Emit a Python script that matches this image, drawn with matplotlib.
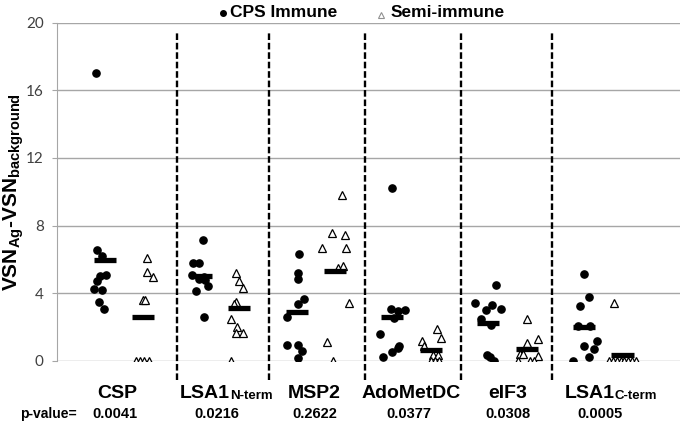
import numpy as np
import matplotlib.pyplot as plt

plt.rcParams['font.family'] = ['Liberation Sans', 'DejaVu Sans']
plt.rcParams['mathtext.fontset'] = 'custom'
plt.rcParams['mathtext.bf'] = 'Liberation Sans:bold'
plt.rcParams['mathtext.rm'] = 'Liberation Sans:bold'

antigens = ['CSP', 'LSA1', 'MSP2', 'AdoMetDC', 'eIF3', 'LSA1']
suffixes = ['', 'N-term', '', '', '', 'C-term']
p_values = ['0.0041', '0.0216', '0.2622', '0.0377', '0.0308', '0.0005']

# CPS immune donors, values and horizontal jitter (fraction of a group)
cps_values = [
    [17.0, 6.55, 6.2, 5.05, 5.0, 4.73, 4.26, 4.2, 3.45, 3.06],
    [7.12, 5.78, 5.78, 5.1, 4.95, 4.85, 4.75, 4.42, 4.1, 2.6],
    [6.3, 5.21, 4.85, 3.65, 3.35, 2.57, 0.91, 0.91, 0.57, 0.18],
    [10.24, 3.04, 2.94, 3.0, 2.5, 1.58, 0.85, 0.77, 0.53, 0.24],
    [4.48, 3.43, 3.3, 3.0, 3.04, 2.47, 2.11, 0.34, 0.2, 0.0],
    [5.13, 3.79, 3.24, 2.05, 2.05, 1.17, 0.88, 0.67, 0.24, 0.0],
]
cps_jitter = [
    [-0.09, -0.08, -0.03, 0.01, -0.05, -0.08, -0.11, -0.03, -0.06, -0.01],
    [0.02, -0.08, -0.02, -0.09, 0.03, -0.02, 0.04, 0.08, -0.05, 0.03],
    [0.03, 0.01, 0.01, 0.08, 0.01, -0.10, -0.10, 0.01, 0.06, 0.01],
    [0.0, -0.02, 0.06, 0.13, 0.02, -0.13, 0.07, 0.06, 0.0, -0.10],
    [0.08, -0.14, 0.04, -0.02, 0.13, -0.08, 0.03, -0.01, 0.02, 0.06],
    [0.0, 0.05, -0.04, -0.06, 0.06, 0.13, 0.0, 0.10, 0.05, -0.12],
]

# semi-immune donors
semi_values = [
    [6.06, 5.27, 4.93, 3.59, 3.59, 0, 0, 0, 0],
    [5.2, 4.73, 4.28, 3.45, 3.35, 2.47, 1.98, 1.62, 1.62, 0],
    [9.8, 7.54, 7.44, 6.65, 6.65, 5.62, 5.47, 3.4, 1.12, 0],
    [1.86, 1.36, 1.15, 0.88, 0.34, 0.34, 0, 0, 0],
    [2.47, 1.3, 1.07, 0.42, 0.42, 0.3, 0, 0, 0],
    [3.4, 0, 0, 0, 0, 0, 0, 0, 0],
]
semi_jitter = [
    [0.04, 0.04, 0.10, 0.0, 0.02, -0.08, -0.03, 0.01, 0.06],
    [-0.03, 0.0, 0.04, -0.03, -0.05, -0.08, -0.02, -0.03, 0.04, -0.08],
    [0.07, -0.03, 0.10, -0.13, 0.12, 0.08, 0.03, 0.15, -0.08, -0.02],
    [0.06, 0.11, -0.09, -0.07, 0.02, 0.07, 0.0, 0.04, 0.09],
    [0.0, 0.12, 0.0, -0.07, -0.04, 0.12, -0.09, 0.03, 0.08],
    [-0.09, -0.14, -0.10, -0.06, -0.02, 0.02, 0.06, 0.10, 0.14],
]

cps_means = [5.95, 5.03, 2.86, 2.57, 2.25, 1.98]
semi_means = [2.6, 3.1, 5.33, 0.63, 0.67, 0.36]
divider_x = [0.75, 1.71, 2.71, 3.72, 4.66]

semi_shift = 0.4
bar_half = 0.115

fig = plt.figure(figsize=(6.85, 4.32), dpi=100)
ax = fig.add_axes([0.0832, 0.165, 0.9095, 0.7825])

for i in range(len(antigens)):
    xc = i + np.array(cps_jitter[i])
    ax.plot(xc, cps_values[i], 'o', color='black', ms=5.2, ls='none', zorder=3)
    xs = i + semi_shift + np.array(semi_jitter[i])
    ax.plot(xs, semi_values[i], '^', mfc='white', mec='black', mew=0.9,
            ms=6, ls='none', zorder=3)
    ax.plot([i - bar_half, i + bar_half], [cps_means[i]] * 2, color='black',
            lw=3.8, solid_capstyle='butt', zorder=4)
    ax.plot([i + semi_shift - bar_half, i + semi_shift + bar_half],
            [semi_means[i]] * 2, color='black', lw=3.8,
            solid_capstyle='butt', zorder=4)

for x in divider_x:
    ax.plot([x, x], [-1.14, 19.4], color='black', lw=1.7,
            ls=(0, (2.8, 1.2)), clip_on=False, zorder=2)

ax.set_xlim(-0.5, 6.0)
ax.set_ylim(0, 20)
ax.set_yticks(np.arange(0, 21, 4))
ax.set_xticks([])
ax.yaxis.grid(True, color='#a6a6a6', lw=1.0)
ax.set_axisbelow(True)
for side in ['top', 'right', 'bottom']:
    ax.spines[side].set_visible(False)
ax.spines['left'].set_color('#a6a6a6')
ax.tick_params(axis='y', colors='#a6a6a6', length=3.6, pad=6,
               labelcolor='#404040', labelsize=11)
for lab in ax.get_yticklabels():
    lab.set_family(['Lato', 'DejaVu Sans'])

ax.set_ylabel(r'$\mathbf{VSN}_{\mathbf{Ag}}\mathbf{\text{-}VSN}_{\mathbf{background}}$',
              fontsize=15)
ax.yaxis.set_label_coords(-0.049, 0.5)

# category labels and p-values below the axis
trans = ax.get_xaxis_transform()
label_x = [0.125, 1.305, 2.18, 3.19, 4.2, 5.32]
pval_x = [0.1, 1.17, 2.19, 3.17, 4.2, 5.17]
for i, name in enumerate(antigens):
    if suffixes[i]:
        t = ax.text(label_x[i], -0.098, name, transform=trans, ha='right',
                    va='center', fontsize=14, fontweight='bold')
        ax.annotate(suffixes[i], xy=(1, 0), xycoords=t, ha='left',
                    va='bottom', fontsize=9.5, fontweight='bold',
                    annotation_clip=False)
    else:
        ax.text(label_x[i], -0.098, name, transform=trans, ha='center',
                va='center', fontsize=14, fontweight='bold')
    ax.text(pval_x[i], -0.158, p_values[i], transform=trans, ha='center',
            va='center', fontsize=10.5, fontweight='bold')
ax.text(-0.29, -0.158, 'p-value=', transform=trans, ha='right', va='center',
        fontsize=10, fontweight='bold')

# legend across the top
ax.plot([0.2665], [1.0287], 'o', color='black', ms=4, transform=ax.transAxes,
        clip_on=False)
ax.text(0.2777, 1.03, 'CPS Immune', transform=ax.transAxes, ha='left',
        va='center', fontsize=12.5, fontweight='bold')
ax.plot([0.520], [1.0228], '^', mfc='white', mec='#909090', mew=0.8, ms=5,
        transform=ax.transAxes, clip_on=False)
ax.text(0.536, 1.03, 'Semi-immune', transform=ax.transAxes, ha='left',
        va='center', fontsize=12.5, fontweight='bold')

fig.savefig('out.png', dpi=100)
